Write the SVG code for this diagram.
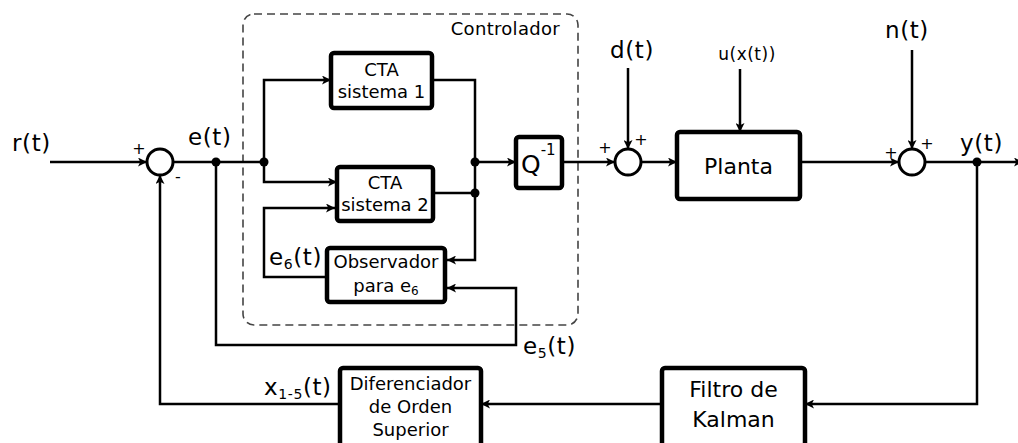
<svg xmlns="http://www.w3.org/2000/svg" width="1018" height="443" viewBox="0 0 1018 443">
<defs>
<marker id="arr" viewBox="0 0 10 10" refX="10" refY="5" markerWidth="10" markerHeight="9" markerUnits="userSpaceOnUse" orient="auto">
<path d="M0,0 L10,5 L0,10 L2.5,5 z" fill="#000"/>
</marker>
<style>
text{font-family:"DejaVu Sans","Liberation Sans",sans-serif;fill:#000}
.ln{fill:none;stroke:#000;stroke-width:2.5;stroke-linejoin:miter}
.a{marker-end:url(#arr)}
.box{fill:#fff;stroke:#000;stroke-width:4.5}
.sum{fill:#fff;stroke:#000;stroke-width:3}
.dot{fill:#000}
.lbl{font-size:23px;letter-spacing:0.6px}
.bt{font-size:18px;text-anchor:middle}
.pm{font-size:16px;text-anchor:middle}
</style>
</defs>
<rect width="1018" height="443" fill="#fff"/>
<g id="controlador-frame">
<rect x="243" y="14" width="335" height="311" rx="11" fill="none" stroke="#444" stroke-width="1.6" stroke-dasharray="8,5"/>
<text x="560" y="35" style="font-size:18px;letter-spacing:0.3px;text-anchor:end">Controlador</text>
</g>
<g id="connectors">
<path class="ln a" d="M50,162 H147"/>
<path class="ln" d="M173,162 H264"/>
<path class="ln a" d="M264,162 V80 H331"/>
<path class="ln a" d="M264,162 V182 H337"/>
<path class="ln a" d="M432,80 H475 V260 H447"/>
<path class="ln" d="M433,193 H475"/>
<path class="ln a" d="M475,162 H516"/>
<path class="ln a" d="M562,162 H615"/>
<path class="ln a" d="M628,68 V149"/>
<path class="ln a" d="M641,162 H677"/>
<path class="ln a" d="M740,69 V132"/>
<path class="ln a" d="M800,162 H899"/>
<path class="ln a" d="M912,50 V149"/>
<path class="ln a" d="M925,162 H1023"/>
<path class="ln a" d="M977,162 V404 H805"/>
<path class="ln a" d="M662,404 H481"/>
<path class="ln a" d="M340,404 H160 V175"/>
<path class="ln a" d="M216,162 V345 H516 V288 H447"/>
<path class="ln a" d="M327,277 H264 V208 H335"/>
<circle class="dot" cx="216" cy="162" r="4.5"/>
<circle class="dot" cx="264" cy="162" r="4.5"/>
<circle class="dot" cx="475" cy="162" r="4.5"/>
<circle class="dot" cx="475" cy="193" r="4.5"/>
<circle class="dot" cx="977" cy="162" r="4.5"/>
</g>
<g id="sum1">
<circle class="sum" cx="160" cy="162" r="13"/>
<text class="pm" x="139" y="154">+</text>
<text class="pm" x="178" y="182">-</text>
</g>
<g id="sum-d">
<circle class="sum" cx="628" cy="162" r="13"/>
<text class="pm" x="605" y="153">+</text>
<text class="pm" x="641" y="145">+</text>
</g>
<g id="sum-n">
<circle class="sum" cx="912" cy="162" r="13"/>
<text class="pm" x="891" y="158">+</text>
<text class="pm" x="927" y="149">+</text>
</g>
<g id="cta1">
<rect class="box" x="331" y="53" width="101" height="55" rx="3"/>
<text class="bt" x="381.5" y="76">CTA</text>
<text class="bt" x="381.5" y="98">sistema 1</text>
</g>
<g id="cta2">
<rect class="box" x="337" y="167" width="96" height="54" rx="3"/>
<text class="bt" x="385" y="189">CTA</text>
<text class="bt" x="385" y="211">sistema 2</text>
</g>
<g id="observador">
<rect class="box" x="327" y="248" width="118" height="54" rx="3"/>
<text class="bt" x="386" y="268">Observador</text>
<text class="bt" x="386" y="292">para e<tspan font-size="12" dy="3">6</tspan></text>
</g>
<g id="q-inv">
<rect class="box" x="516" y="137" width="46" height="51" rx="3"/>
<text x="521" y="173" style="font-size:25px">Q<tspan font-size="15" dy="-18">-1</tspan></text>
</g>
<g id="planta">
<rect class="box" x="677" y="132" width="123" height="67" rx="3"/>
<text x="738.5" y="174" style="font-size:22px;text-anchor:middle">Planta</text>
</g>
<g id="filtro-kalman">
<rect class="box" x="662" y="368" width="143" height="82" rx="3"/>
<text x="733.5" y="397" style="font-size:22px;text-anchor:middle">Filtro de</text>
<text x="733.5" y="427" style="font-size:22px;text-anchor:middle">Kalman</text>
</g>
<g id="diferenciador">
<rect class="box" x="340" y="368" width="141" height="82" rx="3"/>
<text class="bt" x="410.5" y="390">Diferenciador</text>
<text class="bt" x="410.5" y="413">de Orden</text>
<text class="bt" x="410.5" y="436">Superior</text>
</g>
<g id="labels">
<text class="lbl" x="12" y="151">r(t)</text>
<text class="lbl" x="188" y="145">e(t)</text>
<text class="lbl" x="610" y="58">d(t)</text>
<text x="747" y="60" style="font-size:17px;letter-spacing:0.5px;text-anchor:middle">u(x(t))</text>
<text class="lbl" x="885" y="38">n(t)</text>
<text class="lbl" x="960" y="151">y(t)</text>
<text class="lbl" x="523" y="354">e<tspan font-size="14" dy="4">5</tspan><tspan dy="-4">(t)</tspan></text>
<text class="lbl" x="269" y="265">e<tspan font-size="14" dy="4">6</tspan><tspan dy="-4">(t)</tspan></text>
<text class="lbl" x="264" y="395">x<tspan font-size="14" dy="4">1-5</tspan><tspan dy="-4">(t)</tspan></text>
</g>
</svg>
